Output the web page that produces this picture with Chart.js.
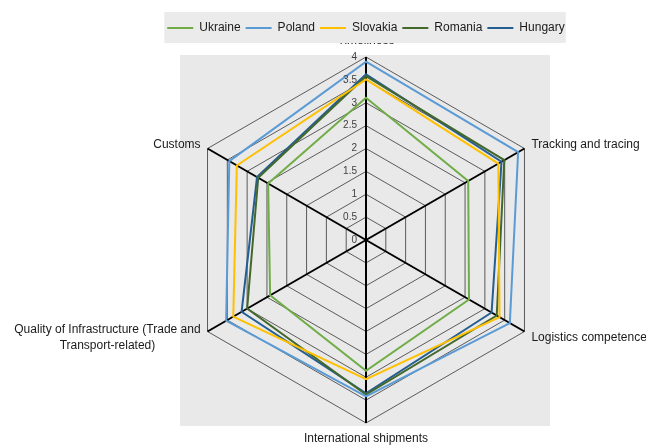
<!DOCTYPE html>
<html>
<head>
<meta charset="utf-8">
<script src="https://cdn.jsdelivr.net/npm/chart.js@4/dist/chart.umd.min.js"></script>
<style>
  html, body { margin: 0; padding: 0; background: #fff; }
  canvas { display: block; }
</style>
</head>
<body>
<canvas id="lpiChart" width="646" height="448"></canvas>
<script>
// Axis labels (clockwise from the top)
const axisLabels = [
    'Timeliness',
    'Tracking and tracing',
    'Logistics competence',
    'International shipments',
    ['Quality of Infrastructure (Trade and', 'Transport-related)'],
    'Customs'
];

// Scores, same order as the axes
const ukraine  = [3.11, 2.58, 2.60, 2.86, 2.42, 2.47];
const poland   = [3.90, 3.84, 3.63, 3.42, 3.53, 3.45];
const slovakia = [3.51, 3.34, 3.37, 3.04, 3.35, 3.26];
const romania  = [3.58, 3.49, 3.30, 3.38, 3.00, 2.72];
const hungary  = [3.62, 3.42, 3.17, 3.35, 3.14, 2.75];

// Scale range
const scaleMin = 0;
const scaleMax = 4;
const scaleStep = 0.5;

const fontFamily = '"Liberation Sans", Arial, sans-serif';
const plotBg = '#e9e9e9';

// Draws the grey plot panel, axis names, tick numbers and the legend panel
const decorPlugin = {
    id: 'decor',
    beforeDraw(chart) {
        const ctx = chart.ctx;
        const s = chart.scales.r;
        const cx = s.xCenter, cy = s.yCenter, r = s.drawingArea;
        ctx.save();

        // grey panel behind the radar
        ctx.fillStyle = plotBg;
        ctx.fillRect(cx - r - 3, cy - r - 2, 2 * r + 4, 2 * r + 5);

        // axis names
        ctx.font = '12px ' + fontFamily;
        ctx.fillStyle = '#1a1a1a';
        ctx.textBaseline = 'middle';
        axisLabels.forEach((lab, i) => {
            const lines = Array.isArray(lab) ? lab : [lab];
            const vertical = (i === 0 || i === 3);
            const p = s.getPointPosition(i, r + (vertical ? 16 : 8));
            let y = p.y;
            if (i === 2 || i === 4) y += 2 - (lines.length - 1) * 8;
            if (vertical) {
                ctx.textAlign = 'center';
                lines.forEach((t, k) => ctx.fillText(t, p.x, y + k * 16));
            } else if (i === 1 || i === 2) {
                ctx.textAlign = 'left';
                lines.forEach((t, k) => ctx.fillText(t, p.x, y + k * 16));
            } else {
                const maxW = Math.max(...lines.map(t => ctx.measureText(t).width));
                ctx.textAlign = 'center';
                lines.forEach((t, k) => ctx.fillText(t, p.x - maxW / 2, y + k * 16));
            }
        });

        // legend panel (covers most of the top axis name, as in the original)
        const boxes = chart.legend && chart.legend.legendHitBoxes;
        if (boxes && boxes.length) {
            const left = Math.min(...boxes.map(b => b.left)) - 3;
            const right = Math.max(...boxes.map(b => b.left + b.width)) + 1;
            const top = boxes[0].top - 10;
            ctx.fillStyle = '#ebebeb';
            ctx.fillRect(left, top, right - left, 31);
        }
        ctx.restore();
    },
    afterDatasetsDraw(chart) {
        const ctx = chart.ctx;
        const s = chart.scales.r;
        ctx.save();
        ctx.font = '10px ' + fontFamily;
        ctx.fillStyle = '#404040';
        ctx.textAlign = 'right';
        ctx.textBaseline = 'middle';
        s.ticks.forEach(t => {
            const d = s.getDistanceFromCenterForValue(t.value);
            ctx.fillText(String(t.value), s.xCenter - 9, s.yCenter - d);
        });
        ctx.restore();
    }
};

function series(label, data, color) {
    return {
        label: label,
        data: data,
        borderColor: color,
        backgroundColor: color,
        borderWidth: 2,
        pointRadius: 0,
        pointHoverRadius: 0,
        fill: false,
        tension: 0
    };
}

const ctx = document.getElementById('lpiChart').getContext('2d');
new Chart(ctx, {
    type: 'radar',
    data: {
        labels: axisLabels,
        datasets: [
            series('Ukraine', ukraine, '#70AD47'),
            series('Poland', poland, '#5B9BD5'),
            series('Slovakia', slovakia, '#FFC000'),
            series('Romania', romania, '#43682B'),
            series('Hungary', hungary, '#255E91')
        ]
    },
    options: {
        responsive: false,
        animation: false,
        layout: {
            padding: { top: 17, bottom: 25, left: 86, right: 0 }
        },
        plugins: {
            legend: {
                position: 'top',
                labels: {
                    usePointStyle: true,
                    pointStyle: 'line',
                    pointStyleWidth: 26,
                    padding: 5,
                    color: '#1a1a1a',
                    font: { family: fontFamily, size: 12 }
                }
            },
            // empty spacer between the legend and the radar
            subtitle: {
                display: true,
                text: '',
                weight: 500,
                position: 'top',
                font: { size: 10 },
                padding: { top: 0, bottom: 1 }
            },
            tooltip: { enabled: false }
        },
        scales: {
            r: {
                min: scaleMin,
                max: scaleMax,
                ticks: { stepSize: scaleStep, display: false },
                pointLabels: { display: false },
                grid: { circular: false, color: '#5a5a5a', lineWidth: 1 },
                angleLines: { color: '#000000', lineWidth: 2 }
            }
        }
    },
    plugins: [decorPlugin]
});
</script>
</body>
</html>
